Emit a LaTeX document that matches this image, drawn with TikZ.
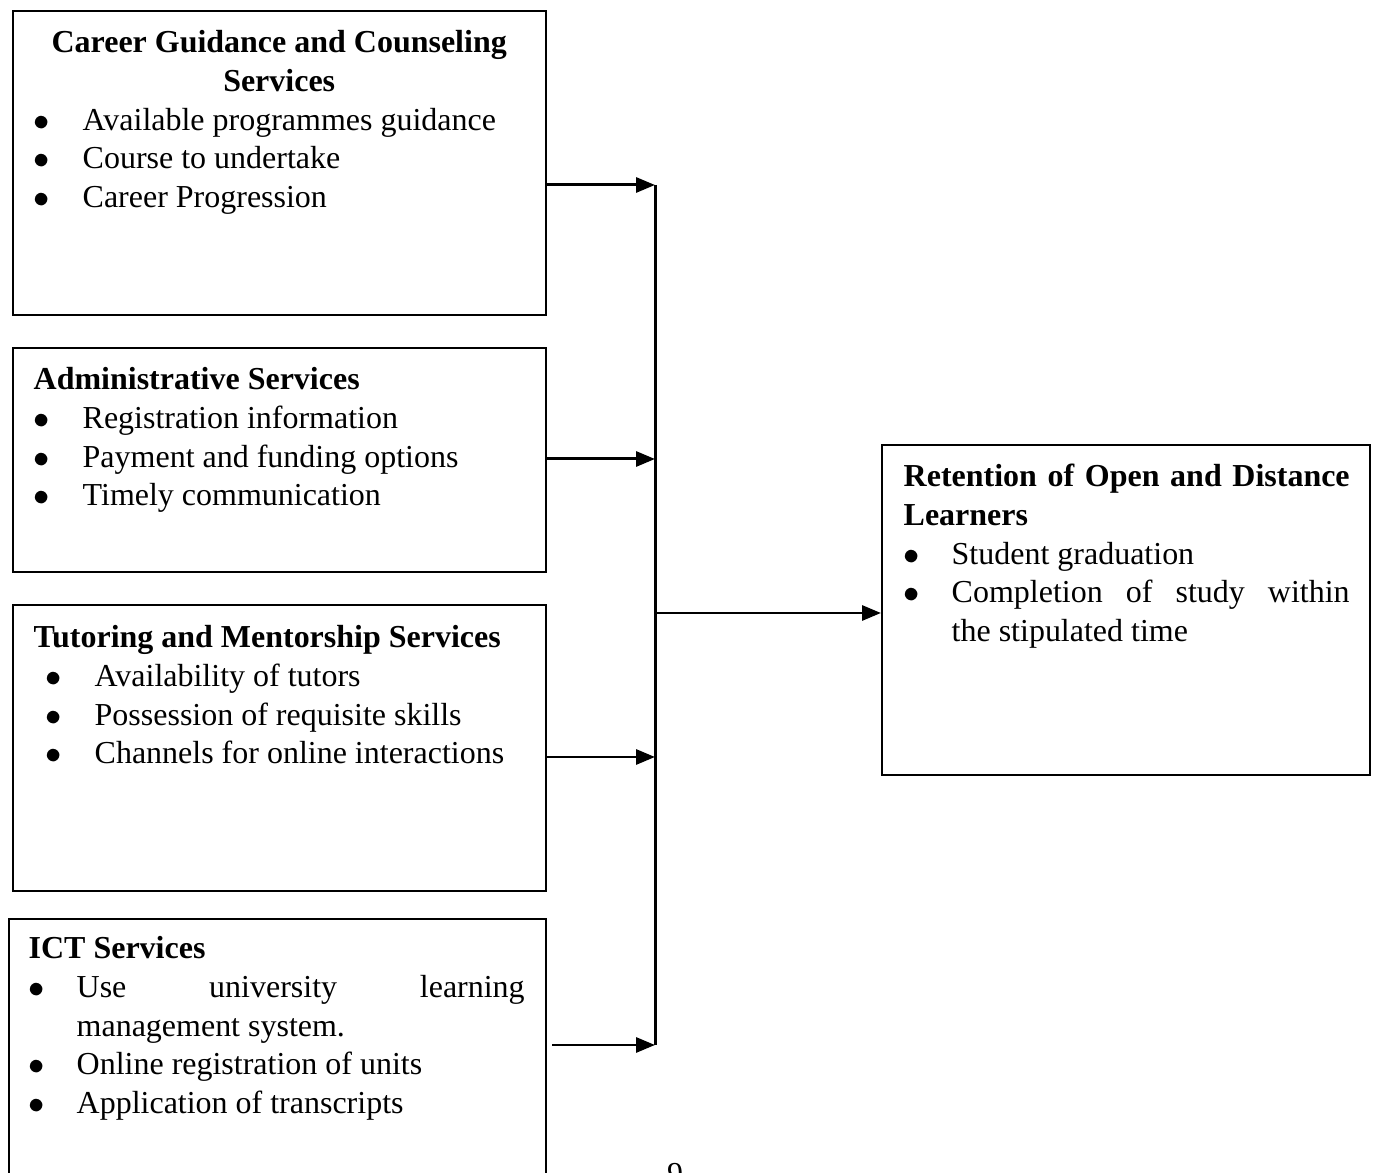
\documentclass[tikz,border=0pt]{standalone}
\usepackage{fontspec}
\setmainfont{Liberation Serif}
\usetikzlibrary{calc}
\usetikzlibrary{arrows.meta,positioning}
\tikzset{
    svc/.style={draw, line width=0.6pt, anchor=north west, inner sep=0pt},
    txt/.style={anchor=base west, inner sep=0pt, align=justify, font=\fontsize{9.1pt}{11pt}\selectfont},
    feed/.style={line width=0.85pt, -{Triangle[length=0.19cm,width=0.15cm]}}
}
% bullet item: #1 hanging indent, #2 space before the bullet
\newcommand{\bitem}[2]{\par\noindent\hangindent=#1\hangafter=1\makebox[#1][l]{\hspace{#2}$\bullet$}\ignorespaces}

\begin{document}
\begin{tikzpicture}
\useasboundingbox (0,0) rectangle (13.74,-11.73);
% service boxes
\node[svc, minimum width=5.33cm, minimum height=3.04cm] (career) at (0.12,-0.10) {};
\node[svc, minimum width=5.33cm, minimum height=2.24cm] (admin) at (0.12,-3.47) {};
\node[svc, minimum width=5.33cm, minimum height=2.86cm] (tutor) at (0.12,-6.04) {};
\node[svc, minimum width=5.37cm, minimum height=3.00cm] (ict) at (0.08,-9.18) {};
\node[svc, minimum width=4.88cm, minimum height=3.30cm] (retention) at (8.81,-4.44) {};
% box texts
\node[txt, text width=4.91cm] (careertxt) at (0.33,-0.53) {{\centering\bfseries Career Guidance and Counseling\\ Services\par}
\bitem{0.49cm}{0cm}Available programmes guidance
\bitem{0.49cm}{0cm}Course to undertake
\bitem{0.49cm}{0cm}Career Progression\par};
\node[txt, text width=4.91cm] (admintxt) at (0.33,-3.90) {\textbf{Administrative Services}
\bitem{0.49cm}{0cm}Registration information
\bitem{0.49cm}{0cm}Payment and funding options
\bitem{0.49cm}{0cm}Timely communication\par};
\node[txt, text width=4.91cm] (tutortxt) at (0.33,-6.48) {\textbf{Tutoring and Mentorship Services}
\bitem{0.61cm}{0.12cm}Availability of tutors
\bitem{0.61cm}{0.12cm}Possession of requisite skills
\bitem{0.61cm}{0.12cm}Channels for online interactions\par};
\node[txt, text width=4.96cm] (icttxt) at (0.28,-9.59) {\textbf{ICT Services}
\bitem{0.48cm}{0cm}Use\hfill university\hfill learning\\ management system.
\bitem{0.48cm}{0cm}Online registration of units
\bitem{0.48cm}{0cm}Application of transcripts\par};
\node[txt, text width=4.46cm] (retentiontxt) at (9.03,-4.87) {\textbf{Retention\hfill of\hfill Open\hfill and\hfill Distance\\ Learners}
\bitem{0.48cm}{0cm}Student graduation
\bitem{0.48cm}{0cm}Completion\hfill of\hfill study\hfill within\\ the stipulated time\par};
% page number
\node[inner sep=0pt, anchor=base, font=\fontsize{9.1pt}{11pt}\selectfont] (pageno) at (6.75,-11.84) {9};
% collecting line and arrows
\coordinate (b1) at (6.55,-1.85);
\coordinate (b2) at (6.55,-4.59);
\coordinate (b3) at (6.55,-7.57);
\coordinate (b4) at (6.55,-10.45);
\coordinate (b5) at (6.55,-6.13);
\draw[line width=0.85pt] (b1) -- (b4);
\draw[feed] (career.east |- b1) -- (b1);
\draw[feed] (admin.east |- b2) -- (b2);
\draw[feed] (tutor.east |- b3) -- (b3);
\draw[feed] ($(ict.east |- b4)+(0.05,0)$) -- (b4);
\draw[feed] (b5) -- (b5 -| retention.west);
\end{tikzpicture}
\end{document}
